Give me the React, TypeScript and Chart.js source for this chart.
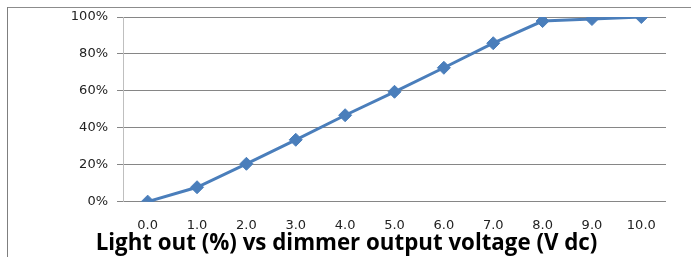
import React, { useEffect, useRef } from "react";
import { Chart, registerables } from "chart.js";

Chart.register(...registerables);

const categories = ["0.0", "1.0", "2.0", "3.0", "4.0", "5.0", "6.0", "7.0", "8.0", "9.0", "10.0"];
const lightOut = [0, 7.8, 20.5, 33.5, 46.8, 59.5, 72.5, 85.8, 97.8, 98.9, 100];
const yTicks = [0, 20, 40, 60, 80, 100];
const titleText = "Light out (%) vs dimmer output voltage (V dc)";

export default function App() {
  const ref = useRef<HTMLCanvasElement | null>(null);

  useEffect(() => {
    if (!ref.current) return;
    const chart = new Chart(ref.current, {
      type: "line",
      data: {
        labels: categories,
        datasets: [
          {
            data: lightOut,
            borderColor: "#4A7EBB",
            backgroundColor: "#4A7EBB",
            borderWidth: 3,
            pointStyle: "rectRot",
            pointRadius: 6.5,
            pointBackgroundColor: "#4A7EBB",
            pointBorderColor: "#4A7EBB",
            pointBorderWidth: 1,
            tension: 0,
          },
        ],
      },
      options: {
        animation: false,
        responsive: false,
        layout: { padding: { left: 19, right: 25, top: 9, bottom: 0 } },
        plugins: {
          legend: { display: false },
          tooltip: { enabled: false },
          title: {
            display: true,
            text: titleText,
            position: "bottom",
            color: "#000",
            font: { family: "'Open Sans'", size: 22.3, weight: "bold" },
            padding: { top: 0, bottom: 0 },
          },
        },
        scales: {
          x: {
            type: "category",
            offset: true,
            grid: { display: false, drawTicks: false },
            border: { display: false },
            ticks: {
              color: "#222",
              font: { family: "'DejaVu Sans'", size: 13 },
              padding: 16,
              maxRotation: 0,
              autoSkip: false,
            },
            afterFit: (s: any) => {
              s.height = 28.6;
            },
          },
          y: {
            min: 0,
            max: 100,
            afterBuildTicks: (s: any) => {
              s.ticks = yTicks.map((v) => ({ value: v }));
            },
            grid: {
              color: "#868686",
              lineWidth: 1,
              drawTicks: true,
              tickLength: 6,
            },
            border: { display: true, color: "#BFBFBF", width: 1 },
            ticks: {
              color: "#222",
              font: { family: "'DejaVu Sans'", size: 13 },
              padding: 9,
              callback: (v: any) => v + "%",
            },
            afterFit: (s: any) => {
              s.width = 96;
              s.paddingTop = 0;
              s.paddingBottom = 0;
            },
          },
        },
      },
    });
    return () => chart.destroy();
  }, []);

  return (
    <div style={{ position: "fixed", left: 7, top: 7, width: 684, height: 250, overflow: "hidden" }}>
      <div
        style={{
          position: "absolute",
          left: 0,
          top: 0,
          width: 684,
          height: 1,
          background: "#8C8C8C",
        }}
      />
      <div
        style={{
          position: "absolute",
          left: 0,
          top: 0,
          width: 1,
          height: 250,
          background: "#7F7F7F",
        }}
      />
      <canvas
        ref={ref}
        width={683}
        height={249}
        style={{ position: "absolute", left: 1, top: 1, width: 683, height: 249 }}
      />
    </div>
  );
}
